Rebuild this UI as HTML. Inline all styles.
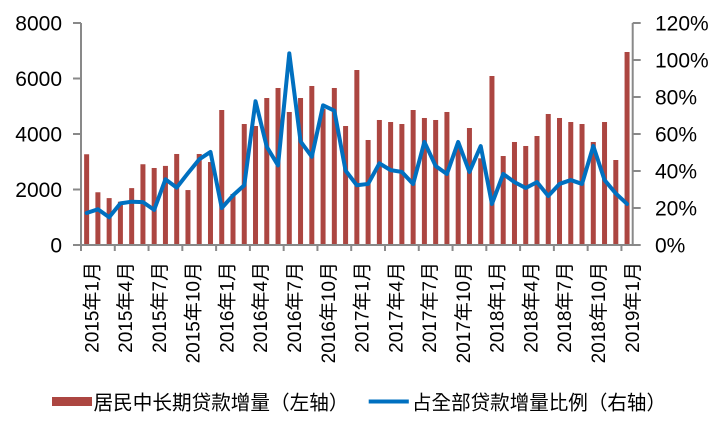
<!DOCTYPE html>
<html>
<head>
<meta charset="utf-8">
<style>
  html, body { margin: 0; padding: 0; background: #ffffff; }
  body { width: 720px; height: 432px; overflow: hidden; }
  svg { display: block; }
  .ax { font-family: "Liberation Sans", "Noto Sans CJK SC", sans-serif; font-size: 21px; fill: #000; }
  .xl { font-family: "Liberation Sans", "Noto Sans CJK SC", sans-serif; font-size: 19px; fill: #000; }
  .lg { font-family: "Liberation Sans", "Noto Sans CJK TC", sans-serif; font-size: 20px; fill: #000; }
</style>
</head>
<body>
<svg width="720" height="432" viewBox="0 0 720 432" xmlns="http://www.w3.org/2000/svg">
  <rect width="720" height="432" fill="#ffffff"/>
  <g fill="#ac4641">
    <rect x="84.13" y="154.26" width="5" height="90.74"/>
    <rect x="95.39" y="192.27" width="5" height="52.73"/>
    <rect x="106.65" y="198.10" width="5" height="46.90"/>
    <rect x="117.91" y="201.71" width="5" height="43.29"/>
    <rect x="129.17" y="188.11" width="5" height="56.89"/>
    <rect x="140.43" y="164.25" width="5" height="80.75"/>
    <rect x="151.68" y="167.99" width="5" height="77.01"/>
    <rect x="162.94" y="165.91" width="5" height="79.09"/>
    <rect x="174.20" y="153.98" width="5" height="91.02"/>
    <rect x="185.46" y="190.05" width="5" height="54.95"/>
    <rect x="196.72" y="153.98" width="5" height="91.02"/>
    <rect x="207.98" y="162.03" width="5" height="82.97"/>
    <rect x="219.24" y="110.00" width="5" height="135.00"/>
    <rect x="230.50" y="194.00" width="5" height="51.00"/>
    <rect x="241.76" y="124.01" width="5" height="120.99"/>
    <rect x="253.02" y="126.01" width="5" height="118.99"/>
    <rect x="264.27" y="98.01" width="5" height="146.99"/>
    <rect x="275.53" y="87.99" width="5" height="157.01"/>
    <rect x="286.79" y="111.99" width="5" height="133.01"/>
    <rect x="298.05" y="98.01" width="5" height="146.99"/>
    <rect x="309.31" y="85.99" width="5" height="159.01"/>
    <rect x="320.57" y="109.02" width="5" height="135.98"/>
    <rect x="331.83" y="87.99" width="5" height="157.01"/>
    <rect x="343.09" y="126.01" width="5" height="118.99"/>
    <rect x="354.35" y="70.01" width="5" height="174.99"/>
    <rect x="365.61" y="139.99" width="5" height="105.01"/>
    <rect x="376.86" y="119.99" width="5" height="125.01"/>
    <rect x="388.12" y="122.01" width="5" height="122.99"/>
    <rect x="399.38" y="124.01" width="5" height="120.99"/>
    <rect x="410.64" y="110.00" width="5" height="135.00"/>
    <rect x="421.90" y="117.99" width="5" height="127.01"/>
    <rect x="433.16" y="119.99" width="5" height="125.01"/>
    <rect x="444.42" y="111.99" width="5" height="133.01"/>
    <rect x="455.68" y="143.71" width="5" height="101.29"/>
    <rect x="466.94" y="128.01" width="5" height="116.99"/>
    <rect x="478.20" y="158.31" width="5" height="86.69"/>
    <rect x="489.45" y="76.00" width="5" height="169.00"/>
    <rect x="500.71" y="156.01" width="5" height="88.99"/>
    <rect x="511.97" y="141.99" width="5" height="103.01"/>
    <rect x="523.23" y="145.99" width="5" height="99.01"/>
    <rect x="534.49" y="136.00" width="5" height="109.00"/>
    <rect x="545.75" y="113.99" width="5" height="131.01"/>
    <rect x="557.01" y="117.99" width="5" height="127.01"/>
    <rect x="568.27" y="122.01" width="5" height="122.99"/>
    <rect x="579.53" y="124.01" width="5" height="120.99"/>
    <rect x="590.79" y="141.99" width="5" height="103.01"/>
    <rect x="602.04" y="122.01" width="5" height="122.99"/>
    <rect x="613.30" y="160.00" width="5" height="85.00"/>
    <rect x="624.56" y="52.00" width="5" height="193.00"/>
  </g>
  <g stroke="#898989" stroke-width="2" fill="none">
    <line x1="81" y1="23" x2="81" y2="245"/>
    <line x1="632.7" y1="23" x2="632.7" y2="245"/>
    <line x1="80" y1="245" x2="633.7" y2="245"/>
    <line x1="73" y1="23" x2="81" y2="23"/>
    <line x1="73" y1="78.5" x2="81" y2="78.5"/>
    <line x1="73" y1="134" x2="81" y2="134"/>
    <line x1="73" y1="189.5" x2="81" y2="189.5"/>
    <line x1="73" y1="245" x2="81" y2="245"/>
    <line x1="632.7" y1="23" x2="640.7" y2="23"/>
    <line x1="632.7" y1="60" x2="640.7" y2="60"/>
    <line x1="632.7" y1="97" x2="640.7" y2="97"/>
    <line x1="632.7" y1="134" x2="640.7" y2="134"/>
    <line x1="632.7" y1="171" x2="640.7" y2="171"/>
    <line x1="632.7" y1="208" x2="640.7" y2="208"/>
    <line x1="632.7" y1="245" x2="640.7" y2="245"/>
    <line x1="81" y1="245" x2="81" y2="251"/>
    <line x1="114.78" y1="245" x2="114.78" y2="251"/>
    <line x1="148.55" y1="245" x2="148.55" y2="251"/>
    <line x1="182.33" y1="245" x2="182.33" y2="251"/>
    <line x1="216.11" y1="245" x2="216.11" y2="251"/>
    <line x1="249.89" y1="245" x2="249.89" y2="251"/>
    <line x1="283.66" y1="245" x2="283.66" y2="251"/>
    <line x1="317.44" y1="245" x2="317.44" y2="251"/>
    <line x1="351.22" y1="245" x2="351.22" y2="251"/>
    <line x1="384.99" y1="245" x2="384.99" y2="251"/>
    <line x1="418.77" y1="245" x2="418.77" y2="251"/>
    <line x1="452.55" y1="245" x2="452.55" y2="251"/>
    <line x1="486.32" y1="245" x2="486.32" y2="251"/>
    <line x1="520.10" y1="245" x2="520.10" y2="251"/>
    <line x1="553.88" y1="245" x2="553.88" y2="251"/>
    <line x1="587.66" y1="245" x2="587.66" y2="251"/>
    <line x1="621.43" y1="245" x2="621.43" y2="251"/>
  </g>
  <polyline fill="none" stroke="#0070c0" stroke-width="4" stroke-linejoin="round" stroke-linecap="round"
    points="86.63,213.0 97.89,209.3 109.15,217.25 120.41,203.4 131.67,201.7 142.93,202.1 154.18,209.85 165.44,179.3 176.70,187.65 187.96,173.2 199.22,159.35 210.48,151.95 221.74,208 233.00,195.4 244.26,185.25 255.52,101.25 266.77,146.75 278.03,165.45 289.29,53.35 300.55,141.4 311.81,156.75 323.07,105.35 334.33,110.7 345.59,170.65 356.85,185.25 368.11,183.95 379.36,163.4 390.62,170.1 401.88,171.95 413.14,183.95 424.40,141.95 435.66,166 446.92,173.95 458.18,141.95 469.44,171.95 480.70,146.05 491.95,203.95 503.21,173.95 514.47,182.1 525.73,188.0 536.99,182.1 548.25,196 559.51,183.95 570.77,180.05 582.03,183.95 593.29,146.05 604.54,180.05 615.80,193.4 627.06,203.95"/>
  <g class="ax" text-anchor="end">
    <text x="62" y="30.5">8000</text>
    <text x="62" y="86">6000</text>
    <text x="62" y="141.5">4000</text>
    <text x="62" y="197">2000</text>
    <text x="62" y="252.5">0</text>
  </g>
  <g class="ax" text-anchor="start">
    <text x="655" y="30.5">120%</text>
    <text x="655" y="67.5">100%</text>
    <text x="655" y="104.5">80%</text>
    <text x="655" y="141.5">60%</text>
    <text x="655" y="178.5">40%</text>
    <text x="655" y="215.5">20%</text>
    <text x="655" y="252.5">0%</text>
  </g>
  <g class="xl" text-anchor="end">
    <text transform="translate(98.33,262) rotate(-90)">2015年1月</text>
    <text transform="translate(132.11,262) rotate(-90)">2015年4月</text>
    <text transform="translate(165.88,262) rotate(-90)">2015年7月</text>
    <text transform="translate(199.66,262) rotate(-90)">2015年10月</text>
    <text transform="translate(233.44,262) rotate(-90)">2016年1月</text>
    <text transform="translate(267.22,262) rotate(-90)">2016年4月</text>
    <text transform="translate(300.99,262) rotate(-90)">2016年7月</text>
    <text transform="translate(334.77,262) rotate(-90)">2016年10月</text>
    <text transform="translate(368.55,262) rotate(-90)">2017年1月</text>
    <text transform="translate(402.32,262) rotate(-90)">2017年4月</text>
    <text transform="translate(436.10,262) rotate(-90)">2017年7月</text>
    <text transform="translate(469.88,262) rotate(-90)">2017年10月</text>
    <text transform="translate(503.65,262) rotate(-90)">2018年1月</text>
    <text transform="translate(537.43,262) rotate(-90)">2018年4月</text>
    <text transform="translate(571.21,262) rotate(-90)">2018年7月</text>
    <text transform="translate(604.99,262) rotate(-90)">2018年10月</text>
    <text transform="translate(638.76,262) rotate(-90)">2019年1月</text>
  </g>
  <rect x="52" y="397" width="40" height="9" fill="#ac4641"/>
  <text class="lg" x="93.5" y="409.5" textLength="255" lengthAdjust="spacingAndGlyphs">居民中长期贷款增量（左轴）</text>
  <line x1="368.7" y1="401.5" x2="408.8" y2="401.5" stroke="#0070c0" stroke-width="4"/>
  <text class="lg" x="412" y="409.5" textLength="254" lengthAdjust="spacingAndGlyphs">占全部贷款增量比例（右轴）</text>
</svg>
</body>
</html>
